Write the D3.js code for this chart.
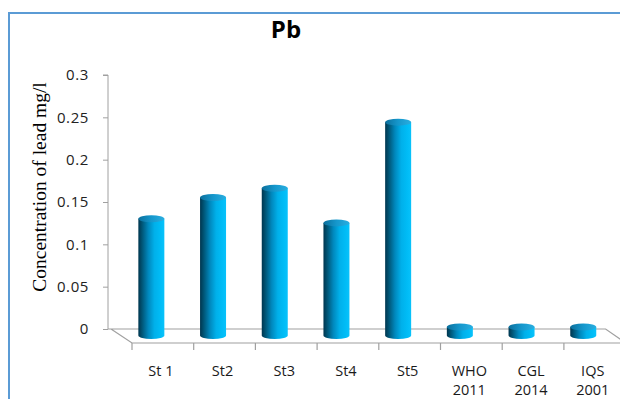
<!DOCTYPE html>
<html>
<head>
<meta charset="utf-8">
<script src="https://cdn.jsdelivr.net/npm/d3@7"></script>
<style>
  html, body { margin: 0; padding: 0; background: #fff; }
  svg { display: block; }
</style>
</head>
<body>
<svg id="chart" width="620" height="399"></svg>
<script>
// Lead (Pb) concentration per station and reference guidelines
const categories = ["St 1", "St2", "St3", "St4", "St5", "WHO\n2011", "CGL\n2014", "IQS\n2001"];
const values = [0.138, 0.163, 0.174, 0.133, 0.252, 0.01, 0.01, 0.01];
const yTicks = [0, 0.05, 0.1, 0.15, 0.2, 0.25, 0.3];
const titleText = "Pb";
const yTitle = "Concentration of lead mg/l";

const svg = d3.select("#chart");
const W = 620, H = 399;
const sans = "'Open Sans', 'Liberation Sans', sans-serif";

// Frame
svg.append("path")
  .attr("d", `M9,${H + 2} L9,13 L${W + 2},13`)
  .attr("fill", "none").attr("stroke", "#5b9bd5").attr("stroke-width", 2);

// Title
svg.append("text")
  .attr("x", 286).attr("y", 38)
  .attr("text-anchor", "middle")
  .attr("font-family", sans)
  .attr("font-weight", "bold").attr("font-size", 24)
  .attr("fill", "#000").text(titleText);

// Scales: back wall value axis; front band axis
const y = d3.scaleLinear().domain([0, 0.3]).range([329, 75]);
const x = d3.scaleBand().domain(categories).range([132, 132 + 8 * 61.7]);

// depth offset of the 3D floor (back -> front)
const depthX = 20, depthY = 14;
const gray = "#a0a0a0";

// Value axis
const yAxis = d3.axisLeft(y).tickValues(yTicks).tickSize(5).tickPadding(10)
  .tickFormat(d => d === 0 ? "0" : String(+d.toFixed(2)));
const gy = svg.append("g").attr("transform", "translate(108,0)").call(yAxis);
gy.select(".domain").attr("stroke", gray).attr("d", `M-5,${y(0.3)}H0V${y(0)}`);
gy.selectAll(".tick line").attr("stroke", gray);
gy.selectAll(".tick text")
  .attr("font-family", sans)
  .attr("font-size", 15).attr("letter-spacing", 0.6).attr("fill", "#222")
  .attr("dx", -4);

// Floor (3D base)
const xb0 = 111, xb1 = x.range()[1] - depthX;
const floor = d3.path();
floor.moveTo(108, y(0)); floor.lineTo(xb1, y(0));
floor.lineTo(xb1 + depthX, y(0) + depthY);
floor.moveTo(xb0, y(0)); floor.lineTo(xb0 + depthX + 1, y(0) + depthY);
floor.lineTo(W + 5, y(0) + depthY);
svg.append("path").attr("d", floor.toString())
  .attr("fill", "none").attr("stroke", gray).attr("stroke-width", 1.2);

// Category axis on the front edge
const xAxis = d3.axisBottom(x).tickSize(0).tickPadding(0);
const gx = svg.append("g").attr("transform", `translate(0,${y(0) + depthY})`).call(xAxis);
gx.select(".domain").remove();
gx.selectAll(".tick text").remove();
// band boundary tick marks
const bounds = categories.map(c => x(c));
gx.selectAll("line.bt").data(bounds).join("line")
  .attr("class", "bt")
  .attr("x1", d => d).attr("x2", d => d)
  .attr("y1", 0).attr("y2", 7)
  .attr("stroke", gray).attr("stroke-width", 1.2);

// Category labels (two lines where needed)
const labels = svg.append("g")
  .attr("font-family", sans)
  .attr("font-size", 14.5).attr("fill", "#1a1a1a").attr("text-anchor", "middle");
categories.forEach(c => {
  const t = labels.append("text").attr("y", 376);
  c.split("\n").forEach((line, i) => {
    t.append("tspan").attr("x", x(c) + x.bandwidth() / 2 - 2)
      .attr("dy", i === 0 ? 0 : 18.5).text(line);
  });
});

// Gradients for the cylinders
const defs = svg.append("defs");
const body = defs.append("linearGradient").attr("id", "cylBody")
  .attr("x1", "0").attr("x2", "1").attr("y1", "0").attr("y2", "0");
[[0, "#00364f"], [0.12, "#00506f"], [0.38, "#0088bd"], [0.62, "#00b0ea"], [0.85, "#00bcf6"], [1, "#08c2fb"]]
  .forEach(([o, c]) => body.append("stop").attr("offset", o).attr("stop-color", c));
const cap = defs.append("linearGradient").attr("id", "cylCap")
  .attr("x1", "0").attr("x2", "1").attr("y1", "0").attr("y2", "0");
[[0, "#0b6f9c"], [0.5, "#1597cc"], [1, "#2aaee0"]]
  .forEach(([o, c]) => cap.append("stop").attr("offset", o).attr("stop-color", c));

// Cylinders sit mid-depth on the floor
const bw = 26, ry = 3.5;
const baseY = y(0) + depthY / 2 - 0.5;
const cx = c => x(c) + x.bandwidth() / 2 - 11.5;
const topY = v => baseY - (y(0) - y(v));

const bars = svg.append("g");
categories.forEach((c, i) => {
  const v = values[i];
  const x0 = cx(c) - bw / 2, x1 = cx(c) + bw / 2;
  const yt = topY(v);
  bars.append("path")
    .attr("d", `M${x0},${yt} L${x0},${baseY} A${bw / 2},${ry} 0 0 0 ${x1},${baseY} L${x1},${yt} Z`)
    .attr("fill", "url(#cylBody)");
  bars.append("ellipse")
    .attr("cx", cx(c)).attr("cy", yt)
    .attr("rx", bw / 2).attr("ry", ry)
    .attr("fill", "url(#cylCap)");
});

// Value axis title
svg.append("text")
  .attr("transform", `translate(46,${(y(0.3) + y(0)) / 2 - 15}) rotate(-90)`)
  .attr("text-anchor", "middle")
  .attr("font-family", "'Liberation Serif', 'Times New Roman', serif")
  .attr("font-size", 19.5).attr("fill", "#000")
  .text(yTitle);
</script>
</body>
</html>
